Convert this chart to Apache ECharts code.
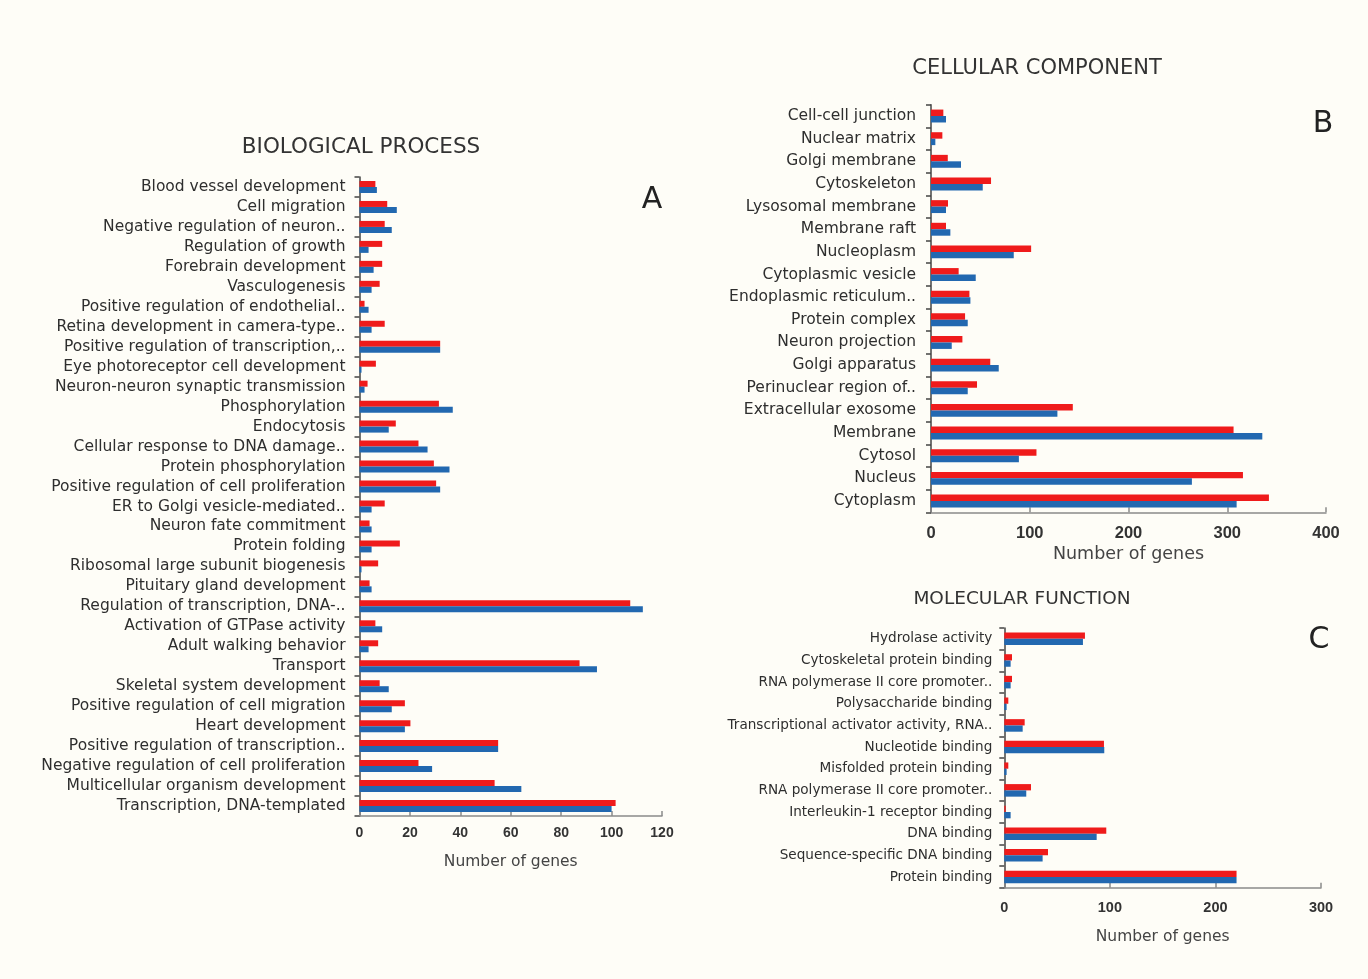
<!DOCTYPE html>
<html>
<head>
<meta charset="utf-8">
<script src="https://cdn.jsdelivr.net/npm/echarts@6/dist/echarts.min.js"></script>
<style>
html,body{margin:0;padding:0;background:#fefdf7;}
#c{width:1368px;height:979px;}
</style>
</head>
<body>
<div id="c"></div>
<script>
// ---- Panel A: Biological process ----
const bpCategories = [
  'Blood vessel development','Cell migration','Negative regulation of neuron..','Regulation of growth',
  'Forebrain development','Vasculogenesis','Positive regulation of endothelial..','Retina development in camera-type..',
  'Positive regulation of transcription,..','Eye photoreceptor cell development','Neuron-neuron synaptic transmission',
  'Phosphorylation','Endocytosis','Cellular response to DNA damage..','Protein phosphorylation',
  'Positive regulation of cell proliferation','ER to Golgi vesicle-mediated..','Neuron fate commitment','Protein folding',
  'Ribosomal large subunit biogenesis','Pituitary gland development','Regulation of transcription, DNA-..',
  'Activation of GTPase activity','Adult walking behavior','Transport','Skeletal system development',
  'Positive regulation of cell migration','Heart development','Positive regulation of transcription..',
  'Negative regulation of cell proliferation','Multicellular organism development','Transcription, DNA-templated'
];
const bpRed  = [6.3,11,10,9,9,8,2,10,32,6.5,3.2,31.5,14.4,23.4,29.5,30.4,10,4,16,7.4,4,107.4,6.3,7.4,87.3,8,18,20.2,55,23.4,53.6,101.6];
const bpBlue = [6.9,14.8,12.8,3.6,5.6,4.8,3.6,4.8,32,0.8,2,37,11.6,27,35.7,32,4.8,4.8,4.8,0.8,4.8,112.4,9,3.6,94.2,11.6,12.8,18,55,28.8,64.2,100];
const bpTicks = [0,20,40,60,80,100,120];

// ---- Panel B: Cellular component ----
const ccCategories = [
  'Cell-cell junction','Nuclear matrix','Golgi membrane','Cytoskeleton','Lysosomal membrane','Membrane raft',
  'Nucleoplasm','Cytoplasmic vesicle','Endoplasmic reticulum..','Protein complex','Neuron projection',
  'Golgi apparatus','Perinuclear region of..','Extracellular exosome','Membrane','Cytosol','Nucleus','Cytoplasm'
];
const ccRed  = [12.5,11.5,17,60.8,17.2,15.2,101.4,28,38.9,34.5,31.8,60,46.6,143.6,306.4,106.8,315.9,342.2];
const ccBlue = [15.2,4.4,30.4,52.4,15.2,19.6,83.8,45.3,39.9,37.2,21,68.6,37.2,128,335.5,89,264.2,309.5];
const ccTicks = [0,100,200,300,400];

// ---- Panel C: Molecular function ----
const mfCategories = [
  'Hydrolase activity','Cytoskeletal protein binding','RNA polymerase II core promoter..','Polysaccharide binding',
  'Transcriptional activator activity, RNA..','Nucleotide binding','Misfolded protein binding',
  'RNA polymerase II core promoter..','Interleukin-1 receptor binding','DNA binding',
  'Sequence-specific DNA binding','Protein binding'
];
const mfRed  = [76.4,7.3,7.3,3.8,19.3,94.4,3.8,25.3,1.3,96.6,41.4,220];
const mfBlue = [74.5,6,6,2.2,17.4,94.7,2.2,20.8,6,87.5,36.3,220];
const mfTicks = [0,100,200,300];

const RED = '#ef1b1b', BLUE = '#2268b0';
const FONT = 'DejaVu Sans';
const TICKFONT = 'Liberation Sans';

function xAx(idx, ticks, labelSize, margin, nameSize, nameGap){
  return {
    gridIndex: idx, type:'value', min: ticks[0], max: ticks[ticks.length-1],
    interval: ticks[1]-ticks[0],
    name: 'Number of genes', nameLocation:'middle', nameGap: nameGap,
    nameTextStyle:{fontFamily:FONT,fontSize:nameSize,color:'#444'},
    axisLine:{show:true,lineStyle:{color:'#8a8a8a',width:1.5}},
    axisTick:{show:true,inside:true,length:5,lineStyle:{color:'#8a8a8a',width:1.5}},
    axisLabel:{fontFamily:TICKFONT,fontWeight:'bold',fontSize:labelSize,color:'#333',margin:margin},
    splitLine:{show:false}
  };
}
function yAx(idx, cats, size, margin){
  return {
    gridIndex: idx, type:'category', data: cats, inverse:true,
    axisLine:{show:true,lineStyle:{color:'#444',width:1.5}},
    axisTick:{show:true,length:5,lineStyle:{color:'#444',width:1.5}},
    axisLabel:{fontFamily:FONT,fontSize:size,color:'#2e2e2e',margin:margin,interval:0,padding:[3,0,0,0]}
  };
}
function bars(idx, data, color, gap){
  return {type:'bar', xAxisIndex:idx, yAxisIndex:idx, data:data, barGap:'0%', barCategoryGap:gap,
    itemStyle:{color:color}, silent:true, animation:false};
}

const chart = echarts.init(document.getElementById('c'));
chart.setOption({
  backgroundColor:'#fefdf7',
  animation:false,
  grid:[
    {left:359.5, top:177, width:302.5, height:639},
    {left:931, top:104.7, width:395, height:407.6},
    {left:1004.3, top:628, width:316.7, height:259.8}
  ],
  xAxis:[
    xAx(0, bpTicks, 14, 10, 15.5, 38),
    xAx(1, ccTicks, 16.5, 13, 17.5, 33),
    xAx(2, mfTicks, 14.5, 13, 15.5, 41)
  ],
  yAxis:[
    yAx(0, bpCategories, 15.5, 14),
    yAx(1, ccCategories, 15.5, 15),
    yAx(2, mfCategories, 13.6, 12)
  ],
  series:[
    bars(0, bpRed, RED, '40%'), bars(0, bpBlue, BLUE, '40%'),
    bars(1, ccRed, RED, '43%'), bars(1, ccBlue, BLUE, '43%'),
    bars(2, mfRed, RED, '42%'), bars(2, mfBlue, BLUE, '42%')
  ],
  graphic:[
    {type:'text', x:361, y:147, style:{text:'BIOLOGICAL PROCESS', fontFamily:FONT, fontSize:21.5, fill:'#333', textAlign:'center', textVerticalAlign:'middle'}},
    {type:'text', x:1037, y:69, style:{text:'CELLULAR COMPONENT', fontFamily:FONT, fontSize:21, fill:'#333', textAlign:'center', textVerticalAlign:'middle'}},
    {type:'text', x:1022, y:599, style:{text:'MOLECULAR FUNCTION', fontFamily:FONT, fontSize:18.5, fill:'#333', textAlign:'center', textVerticalAlign:'middle'}},
    {type:'text', x:652, y:200, style:{text:'A', fontFamily:FONT, fontSize:30, fill:'#222', textAlign:'center', textVerticalAlign:'middle'}},
    {type:'text', x:1323, y:124, style:{text:'B', fontFamily:FONT, fontSize:30, fill:'#222', textAlign:'center', textVerticalAlign:'middle'}},
    {type:'text', x:1319, y:640, style:{text:'C', fontFamily:FONT, fontSize:30, fill:'#222', textAlign:'center', textVerticalAlign:'middle'}}
  ]
});
</script>
</body>
</html>
